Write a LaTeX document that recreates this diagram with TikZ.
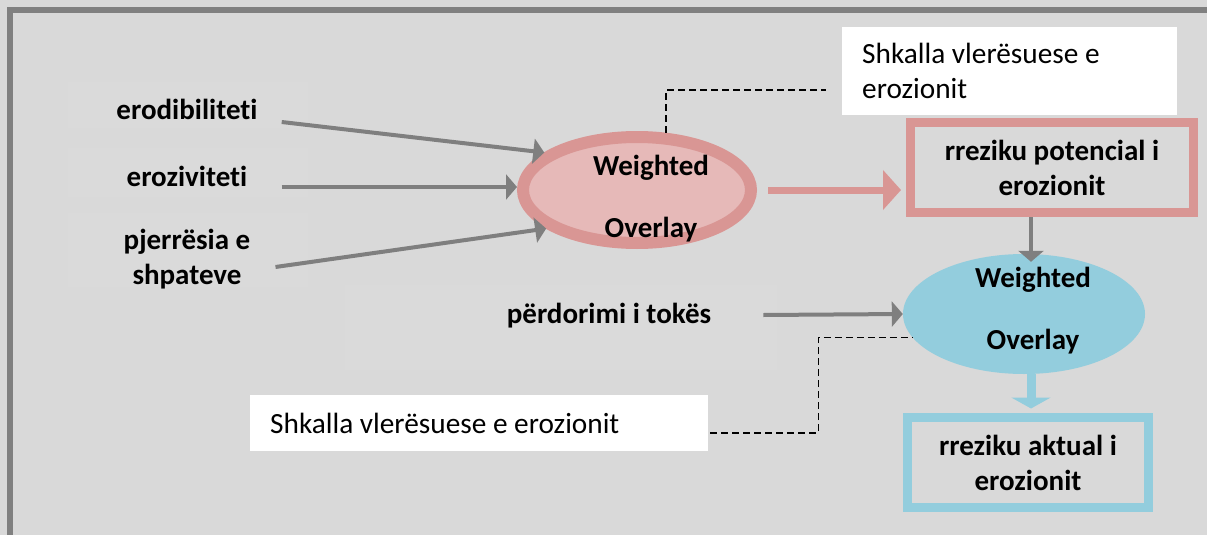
\documentclass[tikz,border=0pt]{standalone}
\usepackage{fontspec}
\setmainfont{Carlito}[Ligatures=NoCommon]
\usetikzlibrary{arrows.meta,shapes.geometric}
\definecolor{bg}{HTML}{D9D9D9}
\definecolor{faint}{HTML}{DADADA}
\definecolor{frame}{HTML}{808080}
\definecolor{pinkline}{HTML}{D99694}
\definecolor{pinkfill}{HTML}{E6B9B8}
\definecolor{blueline}{HTML}{93CDDD}
\definecolor{arrgray}{HTML}{7F7F7F}
\tikzset{
  lbl/.style={font=\fontsize{29}{35}\selectfont\bfseries, inner sep=0pt, align=center},
  ovtext/.style={font=\fontsize{29}{62}\selectfont\bfseries, inner sep=0pt, align=center},
  note/.style={fill=white, font=\fontsize{29.3}{35}\selectfont, inner xsep=20pt, inner ysep=0pt, align=flush left, anchor=north west},
  garrow/.style={draw=arrgray, line width=4pt, -{Triangle[length=11pt,width=25pt]}},
  parrow/.style={draw=pinkline, line width=7pt, -{Triangle[length=18pt,width=39pt]}},
  barrow/.style={draw=blueline, line width=9pt, -{Triangle[length=11pt,width=39pt]}},
  dashline/.style={draw=black, line width=1.6pt, dash pattern=on 7pt off 4pt},
  resultbox/.style={rectangle, line width=9pt, minimum width=283pt, minimum height=90pt, inner sep=0pt,
    font=\fontsize{29}{35}\selectfont\bfseries, align=center},
}
\begin{document}
\begin{tikzpicture}[x=1pt,y=-1pt]
\useasboundingbox (0,0) rectangle (1207,535);
\fill[bg] (0,0) rectangle (1207,535);
% frame
\draw[frame, line width=6pt] (10.3,545) -- (10.3,10.5) -- (1220,10.5);
% faint label backgrounds
\fill[faint] (68,82) rectangle (308,128);
\fill[faint] (68,148) rectangle (308,197);
\fill[faint] (68,213) rectangle (308,287);
\fill[faint] (345,285) rectangle (777,370);
% labels
\node[lbl, anchor=base] (ero) at (187,119) {erodibiliteti};
\node[lbl, anchor=base] (erz) at (187,186) {eroziviteti};
\node[lbl, anchor=base] (pje) at (187,284) {pjerrësia e\\shpateve};
\node[lbl, anchor=base] (per) at (609,323) {përdorimi i tokës};
% first overlay
\node[ellipse, draw=pinkline, fill=pinkfill, line width=12pt, minimum width=228pt, minimum height=106pt, inner sep=0pt] (ov1) at (637,190) {};
\node[ovtext, anchor=base] (w1) at (651,237) {Weighted\\Overlay};
% potential risk box
\node[resultbox, draw=pinkline] (pr) at (1052,167.5) {rreziku potencial i\\erozionit};
% second overlay
\node[ellipse, fill=blueline, minimum width=242pt, minimum height=120pt, inner sep=0pt] (ov2) at (1024,314) {};
\node[ovtext, anchor=base] (w2) at (1033,349) {Weighted\\Overlay};
% actual risk box
\node[resultbox, draw=blueline, minimum width=241pt] (rb) at (1028,462.5) {rreziku aktual i\\erozionit};
% notes
\node[note, minimum width=335pt, minimum height=88pt, text width=295pt] (sk1) at (842,27) {Shkalla vlerësuese e\\erozionit};
\node[note, minimum width=458pt, minimum height=56pt, text width=418pt] (sk2) at (250,395) {Shkalla vlerësuese e erozionit};
\coordinate (dc1) at (826,90);
% connectors
\draw[garrow] ([xshift=24pt,yshift=-3pt]ero.base east) -- (ov1.158);
\draw[garrow] ([xshift=34pt,yshift=-1pt]erz.base east) -- ([yshift=-1pt]erz.base east -| ov1.west);
\draw[garrow] ([xshift=25pt,yshift=17pt]pje.base east) -- (ov1.203);
\draw[garrow] ([xshift=52pt,yshift=8pt]per.base east) -- (ov2.west);
\draw[parrow] ([xshift=11pt]ov1.east) -- ([xshift=-5pt]ov1.east -| pr.west);
\draw[garrow] ([xshift=-21pt]pr.south) -- ([xshift=-21pt,yshift=-8pt]pr.south |- ov2.north);
\draw[barrow] ([xshift=7pt]ov2.south) -- ([xshift=7pt,yshift=4.5pt]ov2.south |- rb.north);
\draw[dashline] (ov1.63) |- (dc1);
\draw[dashline] ([xshift=2pt,yshift=-10pt]sk2.east) -- ++(108,0) |- (ov2.192);
\end{tikzpicture}
\end{document}
